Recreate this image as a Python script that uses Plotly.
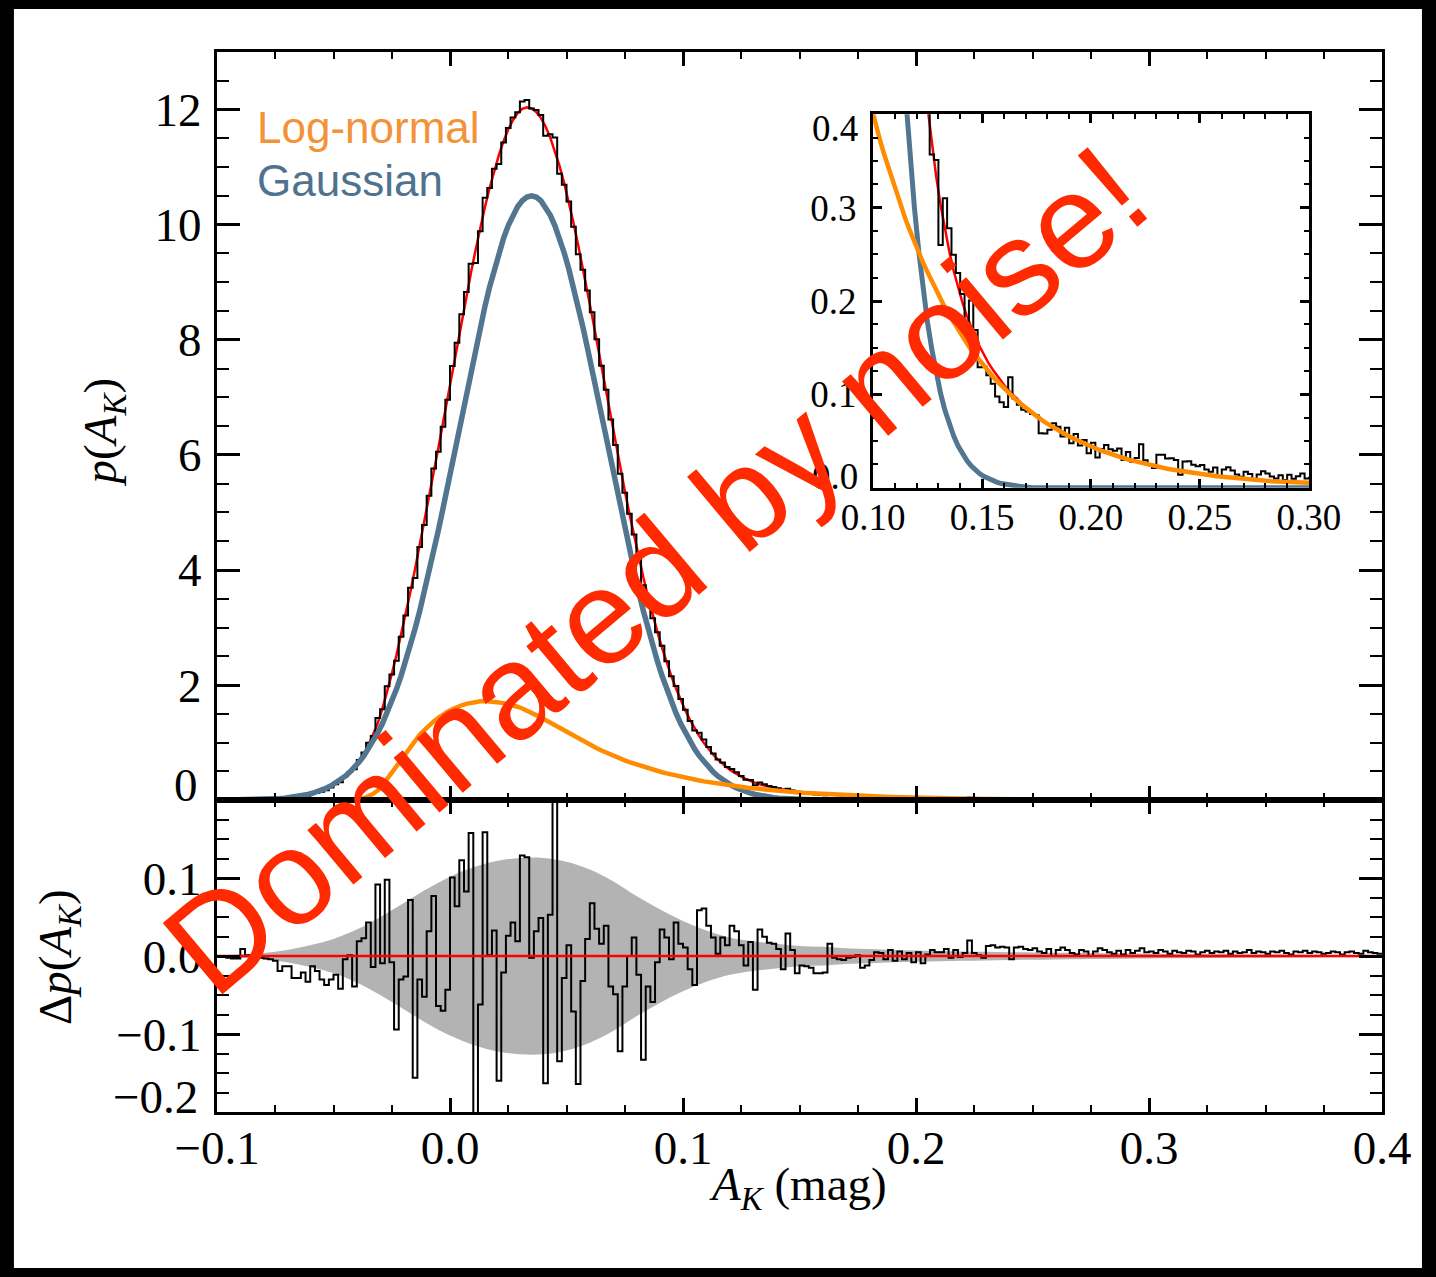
import numpy as np
import plotly.graph_objects as go

# ---------------- data (bin width 0.002 mag, 250 bins from -0.1 to 0.4) ----------------
bin_lo, bin_hi, bin_w = -0.1, 0.4, 0.002

gauss_left = [0.0012, 0.0016, 0.0021, 0.0027, 0.0035, 0.0045, 0.0058, 0.0074, 0.0094, 0.0119,
              0.015, 0.0189, 0.0236, 0.0294, 0.0365, 0.045, 0.0555, 0.068, 0.083, 0.101,
              0.122, 0.148, 0.177, 0.212, 0.253, 0.300, 0.355, 0.418, 0.490, 0.572,
              0.665, 0.770, 0.889, 1.022, 1.169, 1.332, 1.513, 1.711, 1.927, 2.162,
              2.416, 2.688, 2.979, 3.288, 3.615, 3.958, 4.316, 4.688, 5.070, 5.462,
              5.862, 6.265, 6.669, 7.072, 7.469, 7.855, 8.227, 8.583, 8.918, 9.229,
              9.513, 9.765, 9.984, 10.167, 10.311, 10.416, 10.479]
gauss_peak = [10.5]
gauss = gauss_left + gauss_peak + gauss_left[::-1] + [0.0] * 115

lognorm = ([0.0] * 27 +
           [0.0, 0.002, 0.007, 0.017, 0.035, 0.065, 0.11, 0.17, 0.26, 0.37,
            0.48, 0.59, 0.71, 0.82, 0.93, 1.04, 1.14, 1.22, 1.30, 1.37,
            1.43, 1.49, 1.54, 1.58, 1.62, 1.65, 1.675, 1.695, 1.71, 1.72,
            1.724, 1.72, 1.71, 1.70, 1.685, 1.67, 1.65, 1.625, 1.595, 1.56,
            1.52, 1.48, 1.44, 1.395, 1.35, 1.30, 1.255, 1.21, 1.16, 1.115,
            1.065, 1.02, 0.98, 0.943,
            0.902, 0.864, 0.826, 0.791, 0.757, 0.724, 0.693, 0.663, 0.635,
            0.607, 0.581, 0.556, 0.532, 0.509, 0.487, 0.466, 0.446, 0.427, 0.409,
            0.391, 0.374, 0.358, 0.343, 0.328, 0.314, 0.300, 0.287, 0.275, 0.263,
            0.252, 0.241, 0.231, 0.221, 0.211, 0.202, 0.193, 0.185, 0.177, 0.169,
            0.162, 0.155, 0.148, 0.142, 0.136, 0.130, 0.124, 0.119, 0.114, 0.109,
            0.104, 0.0997, 0.0954, 0.0913, 0.0874, 0.0836, 0.0800, 0.0766, 0.0733, 0.0701,
            0.0671, 0.0642, 0.0614, 0.0588, 0.0563, 0.0538, 0.0515, 0.0493, 0.0472, 0.0451,
            0.0432, 0.0413, 0.0395, 0.0378, 0.0362, 0.0346, 0.0331, 0.0317, 0.0303, 0.0290,
            0.0278, 0.0266, 0.0254, 0.0243, 0.0233, 0.0223, 0.0213, 0.0204, 0.0195, 0.0187,
            0.0179, 0.0171, 0.0164, 0.0157, 0.0150, 0.0144, 0.0137, 0.0131, 0.0126, 0.0120,
            0.0115, 0.0110, 0.0105, 0.0101, 0.0097, 0.0092, 0.0088, 0.0085, 0.0081, 0.0077,
            0.0074, 0.0071, 0.0068, 0.0065, 0.0062, 0.0059, 0.0057, 0.0054, 0.0052, 0.0050,
            0.0048, 0.0046, 0.0044, 0.0042, 0.0040, 0.0038, 0.0036, 0.0035, 0.0033, 0.0032,
            0.0030, 0.0029, 0.0028, 0.0027, 0.0025, 0.0024, 0.0023, 0.0022, 0.0021, 0.0020,
            0.0019, 0.0018, 0.0018, 0.0017, 0.0016, 0.0015, 0.0015, 0.0014, 0.0013, 0.0013,
            0.0012, 0.0012, 0.0011, 0.0011, 0.0010, 0.0010, 0.0009, 0.0009, 0.0008, 0.0008,
            0.0008, 0.0007, 0.0007, 0.0007, 0.0006, 0.0006, 0.0006, 0.0005, 0.0005, 0.0005])

residual = [
    -0.001, -0.001, -0.002, -0.003, -0.003, 0.009, 0.001, 0.000, -0.001, -0.002,
    -0.003, -0.004, -0.006, -0.019, -0.013, -0.013, -0.028, -0.028, -0.021, -0.033,
    -0.013, -0.019, -0.030, -0.037, -0.030, -0.024, -0.042, -0.004, 0.001, -0.039,
    0.019, 0.023, 0.043, -0.014, 0.092, -0.009, 0.098, -0.008, -0.094, -0.030,
    -0.026, 0.072, -0.156, -0.030, -0.052, 0.032, 0.077, -0.064, -0.070, -0.043,
    0.101, 0.064, 0.123, 0.083, 0.158, -0.230, -0.062, 0.159, 0.001, 0.033,
    -0.160, -0.021, 0.026, 0.043, 0.019, 0.129, 0.127, -0.002, 0.032, 0.049,
    -0.163, 0.053, 0.230, -0.135, -0.028, 0.014, -0.071, -0.164, -0.032, 0.022,
    0.068, 0.035, 0.016, 0.039, -0.039, -0.049, -0.122, -0.039, 0.000, 0.024,
    -0.024, -0.133, -0.039, -0.059, -0.008, 0.034, 0.024, -0.004, 0.043, 0.016,
    0.011, -0.017, -0.037, 0.059, 0.061, 0.039, 0.024, 0.003, 0.024, 0.014,
    0.039, 0.032, 0.014, -0.012, 0.018, -0.043, 0.034, 0.025, 0.017, 0.016,
    0.009, -0.017, 0.029, 0.008, -0.022, -0.012, -0.013, -0.015, -0.022, -0.022,
    -0.021, 0.016, -0.002, -0.004, -0.005, -0.002, -0.001, 0.001, -0.015, -0.012,
    -0.005, 0.005, 0.004, -0.004, 0.008, -0.006,
    0.006, -0.004, 0.004, -0.008, 0.005, -0.009, 0.002, 0.008, 0.005, 0.005,
    0.009, -0.002, 0.008, -0.001, 0.004,
    0.020, 0.004, 0.001, -0.002, 0.013, 0.014, 0.011, 0.012, 0.011, -0.004,
    0.011, 0.012, 0.009, 0.008, 0.010,
    0.006, 0.004, 0.009, 0.000, 0.008, 0.011, 0.008, 0.004, 0.002, 0.008,
    0.006, 0.000, 0.006, 0.010, 0.008,
    0.005, 0.003, 0.007, 0.002, 0.008, 0.004, 0.007, 0.010, 0.005, 0.006,
    0.004, 0.008, 0.006, 0.003, 0.007,
    0.005, 0.004, 0.007, 0.006, 0.002, 0.005, 0.007, 0.004, 0.006, 0.005,
    0.007, 0.003, 0.006, 0.004, 0.005,
    0.008, 0.004, 0.006, 0.005, 0.003, 0.006, 0.005, 0.007, 0.004, 0.002,
    0.006, 0.005, 0.007, 0.004, 0.006,
    0.005, 0.003, 0.004, 0.006, 0.005, 0.002, 0.005, 0.006, 0.004, 0.003,
    0.007, 0.005, 0.004, 0.003]

# 1-sigma band of the residuals (read every 0.01 mag)
band_x = [-0.10, -0.09, -0.08, -0.07, -0.06, -0.05, -0.04, -0.03, -0.02, -0.01,
          0.00, 0.01, 0.02, 0.03, 0.04, 0.05, 0.06, 0.07, 0.08, 0.09,
          0.10, 0.11, 0.12, 0.13, 0.14, 0.15, 0.16, 0.17, 0.18, 0.19,
          0.20, 0.21, 0.22, 0.23, 0.24, 0.25, 0.26, 0.27, 0.28, 0.29,
          0.30, 0.31, 0.32, 0.33, 0.34, 0.35, 0.36, 0.37, 0.38, 0.39, 0.40]
band_sigma = [0.001, 0.002, 0.004, 0.008, 0.014, 0.022, 0.034, 0.050, 0.068, 0.086,
              0.102, 0.114, 0.122, 0.126, 0.126, 0.121, 0.111, 0.096, 0.077, 0.060,
              0.045, 0.033, 0.024, 0.019, 0.016, 0.013, 0.012, 0.010, 0.0090, 0.0080,
              0.0072, 0.0066, 0.0060, 0.0055, 0.0050, 0.0046, 0.0042, 0.0039, 0.0036, 0.0033,
              0.0030, 0.0028, 0.0026, 0.0024, 0.0022, 0.0020, 0.0018, 0.0017, 0.0016, 0.0015, 0.0014]

zero_x = [bin_lo, bin_hi]
zero_y = [0.0, 0.0]

main_ticks = [2, 4, 6, 8, 10, 12]
main_ticktext = ["2", "4", "6", "8", "10", "12"]
res_ticks = [-0.1, 0.0, 0.1]
res_ticktext = ["\u22120.1", "0.0", "0.1"]
inset_yticks = [0.1, 0.2, 0.3]
inset_yticktext = ["0.1", "0.2", "0.3"]

# ---------------- derived arrays ----------------
n_bins = len(residual)
edges = bin_lo + bin_w * np.arange(n_bins + 1)
centers = edges[:-1] + bin_w / 2
gauss_a = np.array(gauss[:n_bins])
logn_a = np.array(lognorm[:n_bins])
res_a = np.array(residual)
fit_total = gauss_a + logn_a
hist = fit_total + res_a
hist_step = np.append(hist, hist[-1])
res_step = np.append(res_a, res_a[-1])
band_hi = np.array(band_sigma)
band_lo = -band_hi

ORANGE = "#FF8C00"
BLUE = "#52768F"
RED = "#FF0000"
TXT_RED = "#FF2A00"

fig = go.Figure()

def add_main(xa, ya, hist_w=2, blue_w=5.5, orange_w=4.5):
    fig.add_trace(go.Scatter(x=centers, y=fit_total, mode="lines", xaxis=xa, yaxis=ya,
                             line=dict(color=RED, width=2.5), hoverinfo="skip"))
    fig.add_trace(go.Scatter(x=edges, y=hist_step, mode="lines", xaxis=xa, yaxis=ya,
                             line=dict(color="black", width=hist_w, shape="hv"), hoverinfo="skip"))
    fig.add_trace(go.Scatter(x=centers, y=gauss_a, mode="lines", xaxis=xa, yaxis=ya,
                             line=dict(color=BLUE, width=blue_w), hoverinfo="skip"))
    fig.add_trace(go.Scatter(x=centers, y=logn_a, mode="lines", xaxis=xa, yaxis=ya,
                             line=dict(color=ORANGE, width=orange_w), hoverinfo="skip"))

add_main("x", "y")

# residual panel
fig.add_trace(go.Scatter(x=band_x, y=band_lo, mode="lines", xaxis="x2", yaxis="y2",
                         line=dict(width=0, shape="spline", color="#B3B3B3"), hoverinfo="skip"))
fig.add_trace(go.Scatter(x=band_x, y=band_hi, mode="lines", xaxis="x2", yaxis="y2", fill="tonexty",
                         fillcolor="#B3B3B3", line=dict(width=0, shape="spline", color="#B3B3B3"),
                         hoverinfo="skip"))
fig.add_trace(go.Scatter(x=edges, y=res_step, mode="lines", xaxis="x2", yaxis="y2",
                         line=dict(color="black", width=2, shape="hv"), hoverinfo="skip"))
fig.add_trace(go.Scatter(x=zero_x, y=zero_y, mode="lines", xaxis="x2", yaxis="y2",
                         line=dict(color=RED, width=2.5), hoverinfo="skip"))

# inset
add_main("x3", "y3", hist_w=2, blue_w=5, orange_w=4.5)

serif = "Liberation Serif"
tickfont = dict(family=serif, size=47, color="black")
insetfont = dict(family=serif, size=37, color="black")

def xax(**kw):
    d = dict(showline=True, linewidth=3, linecolor="black", mirror="ticks", ticks="inside",
             tickcolor="black", showgrid=False, zeroline=False, fixedrange=True)
    d.update(kw)
    return d

split = 0.2941

fig.update_layout(
    width=1436, height=1277,
    margin=dict(l=217, r=54, t=52, b=165),
    paper_bgcolor="black", plot_bgcolor="white",
    showlegend=False,
    xaxis=xax(domain=[0, 1], anchor="y", range=[-0.1, 0.4], tickmode="linear", tick0=-0.1, dtick=0.1,
              ticklen=14, tickwidth=2.5, showticklabels=False,
              minor=dict(ticks="inside", tickmode="linear", tick0=-0.1, dtick=0.025, ticklen=7,
                         tickwidth=2, tickcolor="black")),
    yaxis=xax(domain=[split, 1.0], anchor="x", range=[0, 13], tickmode="array",
              tickvals=main_ticks, ticktext=main_ticktext, ticklen=23, tickwidth=2.5,
              tickfont=tickfont, ticklabelstandoff=3,
              minor=dict(ticks="inside", tickmode="linear", tick0=0, dtick=0.5, ticklen=12,
                         tickwidth=2, tickcolor="black")),
    xaxis2=xax(domain=[0, 1], anchor="y2", range=[-0.1, 0.4], tickmode="linear", tick0=-0.1, dtick=0.1,
               tickformat=".1f", ticklen=14, tickwidth=2.5, tickfont=tickfont, ticklabelstandoff=-7,
               minor=dict(ticks="inside", tickmode="linear", tick0=-0.1, dtick=0.025, ticklen=7,
                          tickwidth=2, tickcolor="black")),
    yaxis2=xax(domain=[0, split], anchor="x2", range=[-0.2, 0.2], tickmode="array",
               tickvals=res_ticks, ticktext=res_ticktext, ticklen=23, tickwidth=2.5,
               tickfont=tickfont, ticklabelstandoff=3,
               minor=dict(ticks="inside", tickmode="linear", tick0=0, dtick=0.025, ticklen=12,
                          tickwidth=2, tickcolor="black")),
    xaxis3=xax(domain=[0.5631, 0.9373], anchor="y3", range=[0.1, 0.3], tickmode="linear", tick0=0.1,
               dtick=0.05, tickformat=".2f", ticklen=9, tickwidth=2.5, tickfont=insetfont,
               ticklabelstandoff=-5,
               minor=dict(ticks="inside", tickmode="linear", tick0=0.1, dtick=0.01, ticklen=5,
                          tickwidth=2, tickcolor="black")),
    yaxis3=xax(domain=[0.5889, 0.9412], anchor="x3", range=[0, 0.4], tickmode="array",
               tickvals=inset_yticks, ticktext=inset_yticktext, ticklen=9, tickwidth=2.5,
               tickfont=insetfont, ticklabelstandoff=6,
               minor=dict(ticks="inside", tickmode="linear", tick0=0, dtick=0.025, ticklen=5,
                          tickwidth=2, tickcolor="black")),
    shapes=[dict(type="rect", xref="paper", yref="paper", x0=-0.1743, x1=1.0343, y0=-0.1472, y1=1.0406,
                 fillcolor="white", line=dict(width=0), layer="below")],
)

ann = []
def A(text, x, y, font, xanchor="center", yanchor="middle", angle=0):
    ann.append(dict(text=text, x=x, y=y, xref="paper", yref="paper", showarrow=False, font=font,
                    xanchor=xanchor, yanchor=yanchor, textangle=angle))

# edge tick labels shifted inside (as in the reference)
A("0", -0.0146, 0.3085, tickfont, xanchor="right")
A("\u22120.2", -0.0146, 0.0142, tickfont, xanchor="right")
A("0.4", 0.5519, 0.928, insetfont, xanchor="right")
A("0.0", 0.5519, 0.600, insetfont, xanchor="right")

# axis titles
A("<i>p</i>(<i>A</i><sub><i>K</i></sub>)", -0.0975, 0.6415, tickfont, angle=-90)
A("\u0394<i>p</i>(<i>A</i><sub><i>K</i></sub>)", -0.1365, 0.1462, tickfont, angle=-90)
A("<i>A</i><sub><i>K</i></sub> (mag)", 0.4987, -0.0708, tickfont)

# legend labels
sans = "Liberation Sans"
A("Log-normal", 0.0326, 0.9292, dict(family=sans, size=44, color="#F39237"), xanchor="left")
A("Gaussian", 0.0326, 0.8792, dict(family=sans, size=44, color="#4F738F"), xanchor="left")

# overlay
A("Dominated by noise!", 0.376, 0.5113, dict(family=sans, size=135, color=TXT_RED), angle=-40)

fig.update_layout(annotations=ann)
fig.write_html("out.html")
